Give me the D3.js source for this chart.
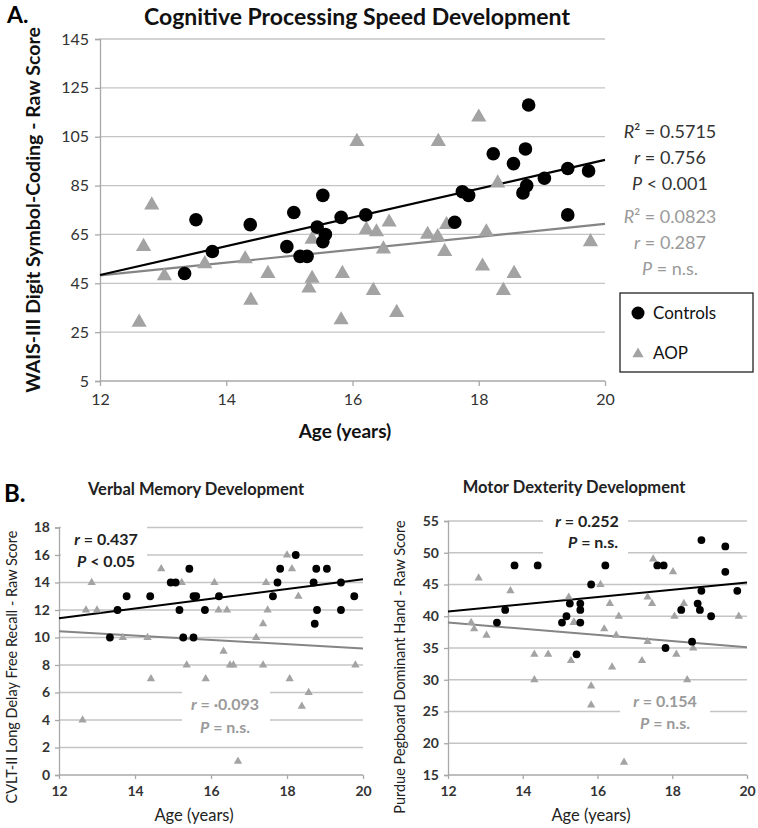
<!DOCTYPE html>
<html><head><meta charset="utf-8">
<script src="https://cdn.jsdelivr.net/npm/d3@7"></script>
<style>body{margin:0;background:#fff}svg{display:block}</style>
</head><body><svg id="c" width="758" height="828"></svg>
<script>
// ---------- Panel A: Cognitive Processing Speed ----------
const ageTicks = [12, 14, 16, 18, 20];
const cpsTicks = [5, 25, 45, 65, 85, 105, 125, 145];
const cpsControls = [[13.34,49],[13.52,71],[13.78,58],[14.38,69],[14.96,60],[15.07,74],[15.17,56],[15.28,56],[15.44,68],[15.53,81],[15.53,62],[15.57,65],[15.82,72],[16.21,73],[17.62,70],[17.74,82.5],[17.84,81],[18.23,98],[18.55,94],[18.70,82],[18.74,100],[18.76,85],[18.79,118],[19.04,88],[19.41,92],[19.41,73],[19.74,91]];
const cpsAOP = [[12.62,29],[12.69,60],[12.82,77],[13.02,48],[13.66,53],[14.30,55],[14.39,38],[14.66,49],[15.31,43],[15.36,63],[15.36,47],[15.82,30],[15.84,49],[16.07,103],[16.22,67],[16.33,42],[16.38,66],[16.49,59],[16.58,70],[16.70,33],[17.19,65],[17.35,64],[17.36,103],[17.46,58],[17.49,69],[18.00,113],[18.06,52],[18.12,66],[18.30,86],[18.39,42],[18.56,49],[19.77,62]];
const cpsTrendControls = [[12,48.4],[20,95.5]];
const cpsTrendAOP = [[12,48.2],[20,69.3]];

// ---------- Panel B1: Verbal Memory ----------
const vmTicks = [0, 2, 4, 6, 8, 10, 12, 14, 16, 18];
const vmControls = [[13.34,10],[13.54,12],[13.78,13],[14.40,13],[14.94,14],[15.07,14],[15.17,12],[15.27,10],[15.43,15],[15.54,13],[15.61,13],[15.54,10],[15.84,12],[16.21,13],[17.63,13],[17.75,14],[17.82,15],[18.23,16],[18.70,14],[18.73,11],[18.77,15],[18.79,12],[19.05,15],[19.42,14],[19.42,12],[19.77,13]];
const vmAOP = [[12.62,4],[12.71,12],[12.86,14],[13.0,12],[13.68,10],[14.33,10],[14.42,7],[14.69,15],[15.23,14],[15.26,10],[15.36,8],[15.86,7],[16.09,14],[16.2,12],[16.33,9],[16.42,12],[16.5,8],[16.59,8],[16.71,1],[17.19,10],[17.37,11],[17.37,8],[17.45,14],[17.49,12],[18.0,16],[18.07,7],[18.13,15],[18.3,13],[18.39,5],[18.57,6],[19.8,8]];
const vmTrendControls = [[12,11.4],[20,14.23]];
const vmTrendAOP = [[12,10.45],[20,9.2]];

// ---------- Panel B2: Motor Dexterity ----------
const mdTicks = [15, 20, 25, 30, 35, 40, 45, 50, 55];
const mdControls = [[13.31,39],[13.53,41],[13.78,48],[14.40,48],[15.05,39],[15.17,40],[15.26,42],[15.44,34],[15.54,42],[15.54,41],[15.54,39],[15.83,45],[16.21,48],[17.6,48],[17.77,48],[17.82,35],[18.24,41],[18.53,36],[18.68,42],[18.74,41],[18.78,52],[18.78,44],[19.04,40],[19.42,51],[19.42,47],[19.74,44]];
const mdAOP = [[12.62,39],[12.7,38],[12.82,46],[13.03,37],[13.67,44],[14.31,34],[14.31,30],[14.68,34],[15.23,43],[15.29,33],[15.36,39],[15.38,39],[15.83,29],[15.83,26],[16.08,45],[16.18,38],[16.33,42],[16.39,32],[16.5,37],[16.57,40],[16.71,17],[17.19,33],[17.34,43],[17.34,36],[17.46,42],[17.49,49],[18.02,47],[18.06,40],[18.11,34],[18.31,42],[18.40,30],[18.56,35],[19.78,40]];
const mdTrendControls = [[12,40.76],[20,45.3]];
const mdTrendAOP = [[12,39.0],[20,35.1]];

const svg = d3.select('#c');
const FONT = 'Lato, "Open Sans", sans-serif';
const GRID = '#c4c4c4', AXIS = '#a8a8a8', GREYPT = '#a3a3a3', GREYLN = '#858585', GREYTXT = '#9a9a9a';

function panel(o) {
  const x = d3.scaleLinear().domain([12, 20]).range(o.xr);
  const y = d3.scaleLinear().domain(o.yd).range(o.yr);
  const g = svg.append('g');
  g.selectAll('.gl').data(o.yticks).join('line')
    .attr('x1', o.xr[0]).attr('x2', o.xr[1])
    .attr('y1', d => y(d)).attr('y2', d => y(d))
    .attr('stroke', d => d === o.yd[0] ? AXIS : GRID).attr('stroke-width', 1.3);
  const ya = d3.axisLeft(y).tickValues(o.yticks).tickSize(o.tick).tickPadding(o.pad);
  const yg = g.append('g').attr('transform', `translate(${o.xr[0]},0)`).call(ya);
  yg.select('.domain').attr('stroke', AXIS).attr('stroke-width', 1.3);
  yg.selectAll('line').attr('stroke', AXIS).attr('stroke-width', 1.3);
  yg.selectAll('text').attr('font-family', FONT).attr('font-size', o.fs).attr('font-weight', o.tw).attr('fill', '#333');
  const xa = d3.axisBottom(x).tickValues(ageTicks).tickSize(o.tick).tickPadding(o.xpad).tickFormat(d3.format('d'));
  const xg = g.append('g').attr('transform', `translate(0,${o.yr[0]})`).call(xa);
  xg.select('.domain').remove();
  xg.selectAll('line').attr('stroke', AXIS).attr('stroke-width', 1.3);
  xg.selectAll('text').attr('font-family', FONT).attr('font-size', o.fs).attr('font-weight', o.tw).attr('fill', '#333');
  (o.masks || []).forEach(m => g.append('rect').attr('x', m[0]).attr('y', m[1]).attr('width', m[2]).attr('height', m[3]).attr('fill', '#fff'));
  const line = d3.line().x(d => x(d[0])).y(d => y(d[1]));
  g.append('path').attr('d', line(o.tA)).attr('stroke', GREYLN).attr('stroke-width', o.lw).attr('fill', 'none');
  g.append('path').attr('d', line(o.tC)).attr('stroke', '#000').attr('stroke-width', o.lw).attr('fill', 'none');
  const tri = d3.symbol().type(d3.symbolTriangle).size(o.ts);
  g.selectAll('.t').data(o.aop).join('path').attr('d', tri)
    .attr('transform', d => `translate(${x(d[0])},${y(d[1])})`).attr('fill', GREYPT);
  g.selectAll('.c').data(o.ctl).join('circle')
    .attr('cx', d => x(d[0])).attr('cy', d => y(d[1])).attr('r', o.cr).attr('fill', '#000');
  return {x, y, g};
}

function txt(x, y, parts, o) {
  const t = svg.append('text').attr('x', x).attr('y', y)
    .attr('font-family', FONT).attr('font-size', o.fs).attr('fill', o.fill || '#000')
    .attr('font-weight', o.fw || 'normal').attr('text-anchor', o.anchor || 'start');
  if (o.rot) t.attr('transform', `rotate(-90,${x},${y})`);
  (Array.isArray(parts) ? parts : [[parts]]).forEach(p => {
    const s = t.append('tspan').text(p[0]);
    if (p[1]) s.attr('font-style', 'italic');
  });
  return t;
}

// Panel A
panel({xr: [100, 605], yd: [5, 145], yr: [381, 39], yticks: cpsTicks, tick: 5, pad: 6, xpad: 8, fs: 16, tw: 'normal',
  tA: cpsTrendAOP, tC: cpsTrendControls, aop: cpsAOP, ctl: cpsControls, ts: 100, cr: 6.8, lw: 2.2});
txt(7, 23, 'A.', {fs: 23, fw: 'bold'});
txt(357, 25, 'Cognitive Processing Speed Development', {fs: 23, fw: 'bold', anchor: 'middle', fill: '#111'});
txt(40, 210, 'WAIS-III Digit Symbol-Coding - Raw Score', {fs: 19.5, fw: 'bold', anchor: 'middle', rot: true, fill: '#111'});
txt(345, 438, 'Age (years)', {fs: 19, fw: 'bold', anchor: 'middle', fill: '#111'});
txt(670, 138, [['R', 1], ['\u00B2 = 0.5715']], {fs: 18, anchor: 'middle', fill: '#333'});
txt(670, 164, [['r', 1], [' =  0.756']], {fs: 18, anchor: 'middle', fill: '#333'});
txt(670, 190, [['P', 1], [' < 0.001']], {fs: 18, anchor: 'middle', fill: '#333'});
txt(670, 223, [['R', 1], ['\u00B2 = 0.0823']], {fs: 18, anchor: 'middle', fill: GREYTXT});
txt(670, 249, [['r', 1], [' =  0.287']], {fs: 18, anchor: 'middle', fill: GREYTXT});
txt(670, 275, [['P', 1], [' = n.s.']], {fs: 18, anchor: 'middle', fill: GREYTXT});
svg.append('rect').attr('x', 620).attr('y', 293).attr('width', 133).attr('height', 79)
  .attr('fill', '#fff').attr('stroke', '#222').attr('stroke-width', 1.3);
svg.append('circle').attr('cx', 638).attr('cy', 313).attr('r', 6.5).attr('fill', '#000');
svg.append('path').attr('d', d3.symbol().type(d3.symbolTriangle).size(55)).attr('transform', 'translate(638,354)').attr('fill', GREYPT);
txt(653, 319, 'Controls', {fs: 17, fill: '#111'});
txt(653, 359, 'AOP', {fs: 17, fill: '#111'});

// Panel B1
panel({xr: [59, 363], yd: [0, 18], yr: [775, 527.5], yticks: vmTicks, tick: 4, pad: 5, xpad: 7, fs: 14, tw: 'bold',
  tA: vmTrendAOP, tC: vmTrendControls, aop: vmAOP, ctl: vmControls, ts: 30, cr: 3.9, lw: 2,
  masks: [[61, 518, 86, 52], [182, 686, 88, 50]]});
txt(4, 502, 'B.', {fs: 24, fw: 'bold'});
txt(196, 495, 'Verbal Memory Development', {fs: 16.5, fw: 'bold', anchor: 'middle', fill: '#222'});
txt(17, 667, 'CVLT-II Long Delay Free Recall - Raw Score', {fs: 14.5, anchor: 'middle', rot: true, fill: '#222'});
txt(194, 821, 'Age (years)', {fs: 16.5, anchor: 'middle', fill: '#222'});
txt(106, 545, [['r', 1], [' = 0.437']], {fs: 16, fw: 'bold', anchor: 'middle', fill: '#222'});
txt(106, 567, [['P', 1], [' < 0.05']], {fs: 16, fw: 'bold', anchor: 'middle', fill: '#222'});
txt(225, 710, [['r', 1], [' =  \u00B70.093']], {fs: 16, fw: 'bold', anchor: 'middle', fill: GREYTXT});
txt(225, 733, [['P', 1], [' = n.s.']], {fs: 16, fw: 'bold', anchor: 'middle', fill: GREYTXT});

// Panel B2
panel({xr: [448, 747], yd: [15, 55], yr: [775, 521], yticks: mdTicks, tick: 4, pad: 5, xpad: 7, fs: 14, tw: 'bold',
  tA: mdTrendAOP, tC: mdTrendControls, aop: mdAOP, ctl: mdControls, ts: 30, cr: 3.9, lw: 2,
  masks: [[543, 510, 85, 47], [620, 688, 90, 48]]});
txt(574, 493, 'Motor Dexterity Development', {fs: 16.5, fw: 'bold', anchor: 'middle', fill: '#222'});
txt(405, 667, 'Purdue Pegboard Dominant Hand - Raw Score', {fs: 14.5, anchor: 'middle', rot: true, fill: '#222'});
txt(591, 821, 'Age (years)', {fs: 16.5, anchor: 'middle', fill: '#222'});
txt(587, 527, [['r', 1], [' =  0.252']], {fs: 16, fw: 'bold', anchor: 'middle', fill: '#222'});
txt(593, 548, [['P', 1], [' = n.s.']], {fs: 16, fw: 'bold', anchor: 'middle', fill: '#222'});
txt(665, 707, [['r', 1], [' =   0.154']], {fs: 16, fw: 'bold', anchor: 'middle', fill: GREYTXT});
txt(665, 729, [['P', 1], [' = n.s.']], {fs: 16, fw: 'bold', anchor: 'middle', fill: GREYTXT});
</script></body></html>
